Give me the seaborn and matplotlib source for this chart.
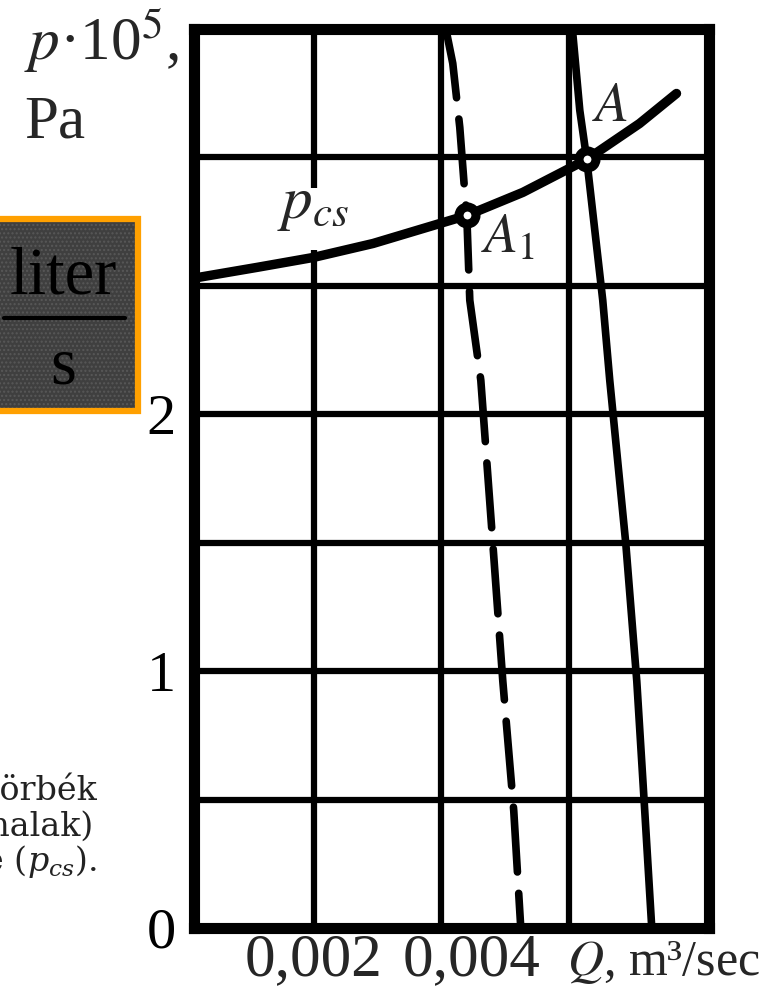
import matplotlib
matplotlib.use("Agg")
import matplotlib.pyplot as plt
import matplotlib.transforms as mtransforms
from matplotlib.patches import Rectangle
from matplotlib.lines import Line2D
import pandas as pd
import seaborn as sns

# Pipeline characteristic p_cs  (Q in m^3/s, p in 10^5 Pa)
q_pipe = [0.00012, 0.00111, 0.00200, 0.00293, 0.00398, 0.00440, 0.00528, 0.00628, 0.00711, 0.00769]
p_pipe = [2.530, 2.572, 2.611, 2.665, 2.743, 2.774, 2.864, 2.992, 3.132, 3.249]

# Pump characteristic, full speed (solid)
q_pump = [0.006063, 0.006173, 0.006282, 0.006533, 0.006643, 0.006894, 0.007067, 0.007192, 0.007302]
p_pump = [3.482, 3.183, 2.992, 2.444, 2.132, 1.498, 0.961, 0.455, 0.0]

# Pump characteristic, reduced speed (dashed)
q_pump_red = [0.004086, 0.004180, 0.004290, 0.004369, 0.004400, 0.004447, 0.004620, 0.004808, 0.004965, 0.005137, 0.005247]
p_pump_red = [3.482, 3.366, 3.117, 2.860, 2.774, 2.444, 2.132, 1.498, 0.961, 0.455, 0.0]

# Operating points
point_names = ["A", "A_1"]
point_q = [0.00628, 0.00440]
point_p = [2.992, 2.774]

x_ticks = [0.002, 0.004, 0.006]
x_tick_labels = ["0,002", "0,004", ""]
y_ticks = [0.0, 0.5, 1.0, 1.5, 2.0, 2.5, 3.0]
y_tick_labels = ["0", "", "1", "", "2", "", ""]

caption_lines = ["szivattyú jelleggörbék", "(szaggatott vonalak)", r"jelleggörbéje ($p_{cs}$)."]

sns.set_theme(style="white")
plt.rcParams["font.family"] = ["Liberation Serif", "DejaVu Serif"]
plt.rcParams["mathtext.fontset"] = "stix"

W, H = 766, 986
fig = plt.figure(figsize=(W / 100, H / 100), dpi=100)


def fx(px):
    return px / W


def fy(py):
    return 1 - py / H


ax = fig.add_axes([fx(194), fy(928), (709 - 194) / W, (928 - 29) / H])
ax.set_xlim(0.00012, 0.0082)
ax.set_ylim(0, 3.5)

pipe_df = pd.DataFrame({"Q": q_pipe, "p": p_pipe})
pump_df = pd.DataFrame({"Q": q_pump, "p": p_pump})
pump_red_df = pd.DataFrame({"Q": q_pump_red, "p": p_pump_red})
points_df = pd.DataFrame({"name": point_names, "Q": point_q, "p": point_p})

sns.lineplot(data=pipe_df, x="Q", y="p", ax=ax, color="black", linewidth=6.8,
             estimator=None, sort=False, solid_capstyle="round", zorder=3)
sns.lineplot(data=pump_df, x="Q", y="p", ax=ax, color="black", linewidth=5.5,
             estimator=None, sort=False, solid_capstyle="round", zorder=3)
sns.lineplot(data=pump_red_df, x="Q", y="p", ax=ax, color="black", linewidth=5.5,
             estimator=None, sort=False, zorder=3)
dashed = ax.lines[-1]
dashed.set_dashes([8.5, 2.8])
dashed.set_dash_capstyle("round")

sns.scatterplot(data=points_df, x="Q", y="p", ax=ax, s=150, marker="o",
                color="white", edgecolor="black", linewidth=6.5, zorder=5, legend=False)

# grid and frame
ax.set_xticks(x_ticks, labels=["" for _ in x_ticks])
ax.set_yticks(y_ticks, labels=y_tick_labels)
ax.grid(True, color="black", linewidth=4.5)
ax.set_axisbelow(True)
for sp in ax.spines.values():
    sp.set_linewidth(8)
    sp.set_color("black")
    sp.set_zorder(6)
ax.tick_params(axis="both", length=0, labelsize=42, colors="black")
ax.tick_params(axis="y", pad=13)
ax.set_xlabel("")
ax.set_ylabel("")

# x tick labels
blend = mtransforms.blended_transform_factory(ax.transData, ax.transAxes)
x_label_shift = [0, 30, 0]
for q, lab, dx in zip(x_ticks, x_tick_labels, x_label_shift):
    if lab:
        t = blend + mtransforms.ScaledTranslation(dx / 100, 0, fig.dpi_scale_trans)
        ax.text(q, -0.052, lab, transform=t, ha="center", va="baseline",
                fontsize=44, clip_on=False)
fig.text(fx(567), fy(975), r"$Q$, m³/sec", fontsize=36, va="baseline", ha="left")

# y axis label
fig.text(fx(24), fy(60), r"$p$·10$^{5}$,", fontsize=44, va="baseline", ha="left")
fig.text(fx(24), fy(138), "Pa", fontsize=44, va="baseline", ha="left")

# curve label; the gridline under it is interrupted down to the curve
ax.text(0.00142, 2.763, r"$p_{cs}$", fontsize=44, va="baseline", ha="left", zorder=4)
ax.add_patch(Rectangle((0.00190, 2.64), 0.00020, 0.24, facecolor="white",
                       edgecolor="none", zorder=1))

# operating point labels
offsets = {"A": (4, 28), "A_1": (10, -27)}
for name, q, p in zip(point_names, point_q, point_p):
    ax.annotate(rf"${name}$", xy=(q, p), xytext=offsets[name], textcoords="offset points",
                fontsize=40, ha="left", va="baseline", zorder=4)

# unit box on the left
fig.patches.append(Rectangle((fx(-10), fy(413)), fx(150), (413 - 217) / H,
                             transform=fig.transFigure, facecolor="#3f3f3f",
                             edgecolor="#585858", hatch="....", linewidth=0))
fig.patches.append(Rectangle((fx(-10), fy(411)), fx(148), (411 - 219) / H,
                             transform=fig.transFigure, facecolor="none",
                             edgecolor="#FFA000", linewidth=4.5))
fig.text(fx(63), fy(293), "liter", fontsize=48, ha="center", va="baseline", color="black")
fig.lines.append(Line2D([fx(4), fx(125)], [fy(318), fy(318)], transform=fig.transFigure,
                        color="black", linewidth=3))
fig.text(fx(63), fy(383), "s", fontsize=48, ha="center", va="baseline", color="black")

# caption fragment
cap_right = [97, 93, 97]
cap_base = [800, 836, 871]
for line, xr, yb in zip(caption_lines, cap_right, cap_base):
    fig.text(fx(xr), fy(yb), line, fontsize=24, ha="right", va="baseline",
             color="#222222", family="DejaVu Serif", math_fontfamily="dejavuserif")

fig.savefig("out.png", dpi=100)
